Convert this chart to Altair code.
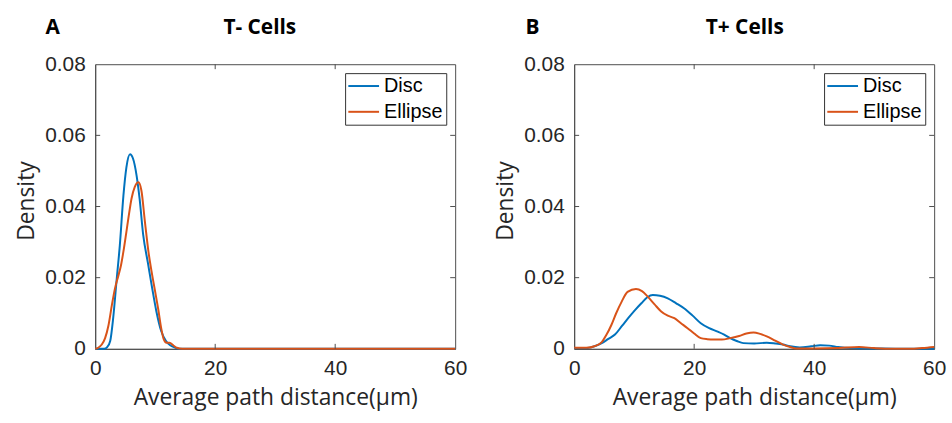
import altair as alt
import pandas as pd

# ---------------- data ----------------
series_names = ["Disc", "Ellipse"]
series_colors = ["#0072BD", "#D95319"]

# Panel A: T- Cells
a_disc_x = [0, 1.5, 2.0, 2.5, 3.0, 3.6, 4.1, 4.7, 5.2, 5.8, 6.3, 6.9, 7.4, 8.0, 8.8, 9.5, 10.2, 11.0, 11.8, 12.5, 13.2, 14.0, 60]
a_disc_y = [0, 0, 0.0005, 0.0022, 0.0087, 0.0199, 0.029, 0.043, 0.051, 0.0547, 0.0535, 0.0487, 0.0422, 0.032, 0.024, 0.017, 0.0105, 0.005, 0.0022, 0.0010, 0.0004, 0, 0]
a_ell_x = [0, 0.5, 1.1, 1.65, 2.2, 2.8, 3.3, 3.85, 4.3, 4.7, 5.2, 5.6, 6.05, 6.6, 7.2, 7.7, 8.3, 8.9, 9.4, 10.0, 10.5, 11.0, 11.4, 11.9, 12.4, 13.0, 13.6, 14.5, 60]
a_ell_y = [0, 0.0003, 0.0012, 0.003, 0.0065, 0.0125, 0.017, 0.0205, 0.0235, 0.0273, 0.0329, 0.0375, 0.0422, 0.0455, 0.0468, 0.0445, 0.0355, 0.027, 0.0217, 0.016, 0.0112, 0.0058, 0.0028, 0.0017, 0.0017, 0.0010, 0.0003, 0, 0]

# Panel B: T+ Cells
b_disc_x = [0, 2, 3.5, 4.6, 5.7, 6.8, 8.0, 9.0, 10.1, 11.2, 12.2, 13.1, 14.3, 15.6, 17.0, 18.3, 19.7, 21.1, 22.5, 23.8, 25.0, 26.0, 27.1, 28.2, 30.0, 32.1, 33.5, 34.8, 36.0, 37.6, 39.5, 41.0, 42.5, 44.0, 46.0, 50.0, 55.0, 60.0]
b_disc_y = [0.0002, 0.0002, 0.0008, 0.0016, 0.0028, 0.004, 0.0065, 0.0086, 0.0108, 0.0128, 0.0145, 0.0151, 0.0149, 0.0142, 0.0128, 0.0114, 0.0094, 0.0072, 0.0058, 0.0049, 0.0040, 0.0030, 0.0022, 0.0016, 0.0015, 0.0017, 0.0015, 0.0012, 0.0007, 0.0004, 0.0007, 0.0010, 0.0009, 0.0005, 0.0002, 0.0001, 0, 0]
b_ell_x = [0, 2, 3.5, 4.6, 5.4, 6.2, 7.0, 7.9, 8.9, 10.3, 11.3, 12.3, 13.4, 14.5, 15.6, 16.7, 17.8, 18.9, 20.0, 21.1, 22.2, 23.3, 24.6, 26.0, 27.5, 28.7, 29.9, 31.0, 32.1, 33.5, 34.8, 36.0, 37.0, 40.0, 44.0, 47.5, 50.0, 53.0, 56.0, 58.0, 60.0]
b_ell_y = [0.0003, 0.0003, 0.0008, 0.0019, 0.004, 0.0067, 0.010, 0.0132, 0.016, 0.0168, 0.0162, 0.0146, 0.0125, 0.0105, 0.0093, 0.0086, 0.0072, 0.0058, 0.0043, 0.0030, 0.0027, 0.0026, 0.0026, 0.0030, 0.0036, 0.0043, 0.0046, 0.0042, 0.0035, 0.0023, 0.0012, 0.0005, 0.0001, 0.0001, 0.0002, 0.0005, 0.0002, 0, 0, 0.0002, 0.0005]

x_ticks = [0, 20, 40, 60]
y_ticks = [0, 0.02, 0.04, 0.06, 0.08]

W, H = 363, 287
AXIS_FONT = "Liberation Sans"
TITLE_FONT = "Open Sans"
TXT = "#262626"
FRAME = "#4d4d4d"


def long_df(dx, dy, ex, ey):
    rows = [{"x": a, "y": b, "series": "Disc", "o": i} for i, (a, b) in enumerate(zip(dx, dy))]
    rows += [{"x": a, "y": b, "series": "Ellipse", "o": i} for i, (a, b) in enumerate(zip(ex, ey))]
    return pd.DataFrame(rows)


def panel(df, letter, title, letter_dx, title_dx):
    xs = alt.Scale(domain=[0, 60], nice=False)
    ys = alt.Scale(domain=[0, 0.08], nice=False)
    lines = alt.Chart(df).mark_line(strokeWidth=2, interpolate="monotone").encode(
        x=alt.X("x:Q", scale=xs,
                axis=alt.Axis(values=x_ticks, title="Average path distance(μm)", grid=False,
                              ticks=False, labelPadding=9, labelFontSize=21, labelFont=AXIS_FONT,
                              labelColor=TXT, titleFont=TITLE_FONT, titleFontSize=23,
                              titleFontWeight="normal", titleColor=TXT, titlePadding=8,
                              domainColor=FRAME, labelFlush=False)),
        y=alt.Y("y:Q", scale=ys,
                axis=alt.Axis(values=y_ticks, title="Density", grid=False, ticks=False,
                              labelPadding=10, labelFontSize=21, labelFont=AXIS_FONT,
                              labelColor=TXT, titleFont=TITLE_FONT, titleFontSize=23,
                              titleFontWeight="normal", titleColor=TXT, titlePadding=6,
                              titleY=H / 2 - 6,
                              domainColor=FRAME, labelFlush=False,
                              labelExpr="datum.value == 0 ? '0' : format(datum.value, '.2f')")),
        color=alt.Color("series:N",
                        scale=alt.Scale(domain=series_names, range=series_colors),
                        legend=alt.Legend(title=None, orient="top-right", offset=9,
                                          symbolType="M-2,0H2", symbolSize=240,
                                          symbolOffset=5.75,
                                          symbolStrokeWidth=2, labelFont=AXIS_FONT,
                                          labelFontSize=20, labelColor="#000",
                                          labelOffset=10.5, rowPadding=6, padding=3,
                                          strokeColor="#333", fillColor="white")),
        order="o:Q",
    )
    xt = pd.DataFrame({"x": x_ticks[1:-1]})
    yt = pd.DataFrame({"y": y_ticks[1:-1]})
    tb = alt.Chart(xt).mark_rule(color=FRAME, strokeWidth=1).encode(
        x=alt.X("x:Q", scale=xs), y=alt.value(H), y2=alt.value(H - 5))
    tt = alt.Chart(xt).mark_rule(color=FRAME, strokeWidth=1).encode(
        x=alt.X("x:Q", scale=xs), y=alt.value(0), y2=alt.value(5))
    tl = alt.Chart(yt).mark_rule(color=FRAME, strokeWidth=1).encode(
        y=alt.Y("y:Q", scale=ys), x=alt.value(0), x2=alt.value(5))
    tr = alt.Chart(yt).mark_rule(color=FRAME, strokeWidth=1).encode(
        y=alt.Y("y:Q", scale=ys), x=alt.value(W), x2=alt.value(W - 5))
    lab = alt.Chart(pd.DataFrame({"t": [letter]})).mark_text(
        font=TITLE_FONT, fontSize=21, fontWeight="bold", align="left", baseline="middle",
        color="#000").encode(text="t:N", x=alt.value(letter_dx), y=alt.value(-36))
    ttl = alt.Chart(pd.DataFrame({"t": [title]})).mark_text(
        font=TITLE_FONT, fontSize=21, fontWeight="bold", align="center", baseline="middle",
        color="#000").encode(text="t:N", x=alt.value(title_dx), y=alt.value(-36))
    return alt.layer(lines, tb, tt, tl, tr, lab, ttl).properties(width=W, height=H)


pa = panel(long_df(a_disc_x, a_disc_y, a_ell_x, a_ell_y), "A", "T- Cells", -50, 166)
pb = panel(long_df(b_disc_x, b_disc_y, b_ell_x, b_ell_y), "B", "T+ Cells", -49, 172)

chart = alt.hconcat(pa, pb, spacing=26).resolve_scale(color="independent").resolve_legend(
    color="independent").properties(
    padding={"left": 15, "top": 15, "right": 5, "bottom": 5},
    background="white",
).configure_view(stroke=FRAME, strokeWidth=1)

chart.save("out.html", embed_options={"renderer": "svg", "actions": False})
